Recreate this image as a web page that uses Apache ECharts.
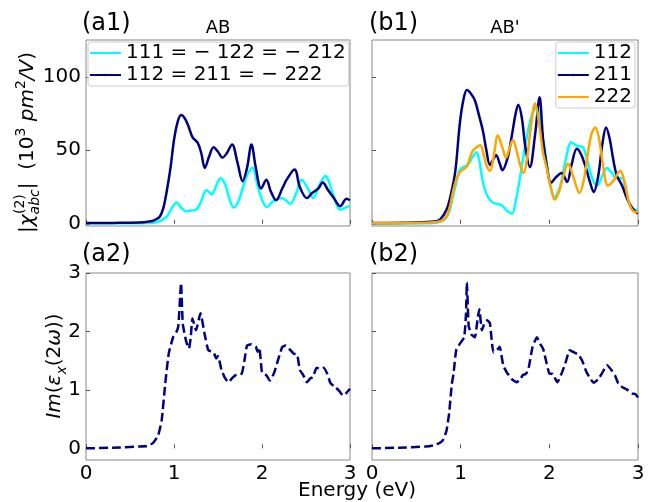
<!DOCTYPE html>
<html>
<head>
<meta charset="utf-8">
<script src="https://cdn.jsdelivr.net/npm/echarts@6/dist/echarts.min.js"></script>
<style>
  html, body { margin: 0; padding: 0; background: #fff; }
  #chart { width: 657px; height: 502px; }
</style>
</head>
<body>
<div id="chart"></div>
<script>
// ---- (a1) AB stacking: |chi^(2)_abc| in 10^3 pm^2/V ----
const abE111 = [0, 0.5, 0.7, 0.8, 0.86, 0.92, 0.97, 1.03, 1.08, 1.14, 1.2, 1.25, 1.3, 1.37, 1.43, 1.48, 1.53, 1.58, 1.63, 1.68, 1.73, 1.78, 1.83, 1.89, 1.95, 2.01, 2.06, 2.12, 2.22, 2.27, 2.32, 2.39, 2.45, 2.53, 2.58, 2.65, 2.72, 2.81, 2.89, 2.95, 3.0];
const abV111 = [0.3, 0.3, 0.5, 1, 2.5, 5, 10, 14.5, 11, 8.5, 9, 9.5, 14, 23, 20, 26, 31, 27, 17, 11, 15, 24, 33, 38, 26, 15, 11.5, 15, 17.5, 16, 13.5, 21, 30, 23, 17.5, 26, 32.5, 19.6, 9.5, 11, 12];
const abE112 = [0, 0.3, 0.6, 0.72, 0.78, 0.84, 0.88, 0.92, 0.96, 1.0, 1.04, 1.08, 1.12, 1.16, 1.21, 1.27, 1.31, 1.35, 1.40, 1.45, 1.50, 1.55, 1.60, 1.66, 1.72, 1.78, 1.83, 1.88, 1.93, 1.99, 2.05, 2.10, 2.16, 2.23, 2.28, 2.37, 2.43, 2.51, 2.57, 2.64, 2.69, 2.75, 2.81, 2.89, 2.96, 3.0];
const abV112 = [0.5, 0.6, 0.8, 1.5, 2.5, 5, 11, 23, 38, 57, 69, 74, 72, 67, 59, 55, 48, 38, 46, 52, 49, 45, 48, 54, 42, 29, 38, 54, 38, 24, 30, 22, 16, 24, 30, 37, 25, 17.5, 21, 24, 28, 23, 18, 12, 17, 16];

// ---- (b1) AB' stacking ----
const abpE112 = [0, 0.6, 0.75, 0.82, 0.87, 0.91, 0.95, 0.99, 1.04, 1.08, 1.13, 1.18, 1.21, 1.24, 1.27, 1.31, 1.36, 1.41, 1.45, 1.49, 1.54, 1.58, 1.62, 1.66, 1.70, 1.76, 1.81, 1.86, 1.9, 1.95, 2.0, 2.06, 2.12, 2.18, 2.25, 2.31, 2.38, 2.44, 2.49, 2.54, 2.6, 2.65, 2.7, 2.76, 2.82, 2.87, 2.92, 2.96, 3.0];
const abpV112 = [0.2, 0.3, 1, 3, 8, 18, 28, 36.5, 39, 40, 45, 48.6, 43, 32, 24, 18, 14.5, 13.5, 13, 11, 8, 7, 15, 28, 43, 63.5, 75, 80, 68, 50, 30, 18, 25, 42, 55.5, 53, 52, 40, 30, 26, 33, 38, 35, 31, 31, 20, 11.5, 9.5, 9];
const abpE211 = [0, 0.5, 0.7, 0.77, 0.84, 0.89, 0.94, 0.99, 1.03, 1.07, 1.11, 1.16, 1.21, 1.25, 1.29, 1.33, 1.36, 1.40, 1.44, 1.47, 1.53, 1.58, 1.62, 1.65, 1.69, 1.73, 1.78, 1.84, 1.89, 1.93, 1.97, 2.02, 2.08, 2.14, 2.2, 2.25, 2.31, 2.36, 2.42, 2.46, 2.50, 2.55, 2.6, 2.64, 2.68, 2.72, 2.76, 2.82, 2.87, 2.91, 2.96, 3.0];
const abpV211 = [0.5, 0.8, 1.5, 3, 9.5, 20, 36, 68, 84, 91, 89, 84, 73, 63.5, 50, 40, 43, 46.6, 41, 36.5, 45, 61, 75, 81, 72, 52, 38.5, 61, 86, 57, 40, 28, 32, 34.5, 28.5, 40, 51, 47, 36.5, 28, 21.6, 32, 55, 65.5, 58, 44, 33, 26, 18, 13, 9, 7];
const abpE222 = [0, 0.5, 0.7, 0.78, 0.84, 0.88, 0.91, 0.95, 0.99, 1.03, 1.07, 1.13, 1.18, 1.22, 1.26, 1.29, 1.33, 1.37, 1.42, 1.47, 1.51, 1.55, 1.59, 1.63, 1.67, 1.71, 1.75, 1.79, 1.84, 1.88, 1.93, 1.97, 2.02, 2.06, 2.11, 2.16, 2.21, 2.27, 2.34, 2.39, 2.44, 2.48, 2.52, 2.56, 2.61, 2.66, 2.72, 2.8, 2.85, 2.9, 2.95, 3.0];
const abpV222 = [0.3, 0.5, 1, 2, 5, 12, 21, 30, 35, 37, 39, 49, 52, 53.4, 47, 40, 36, 45, 60, 52, 45, 51, 57, 50, 40, 34.5, 45, 65, 82, 70, 48, 38, 24, 16.5, 22, 33, 41, 32, 21, 30, 50, 62, 65.5, 58, 38, 26, 29, 36, 28, 14, 8.5, 8];

// ---- (a2)/(b2) Im(eps_x(2w)) ----
const epsAE = [0, 0.3, 0.6, 0.69, 0.76, 0.82, 0.86, 0.9, 0.94, 0.99, 1.03, 1.05, 1.07, 1.08, 1.1, 1.14, 1.17, 1.19, 1.21, 1.25, 1.3, 1.35, 1.39, 1.45, 1.48, 1.5, 1.54, 1.58, 1.62, 1.66, 1.71, 1.77, 1.8, 1.83, 1.88, 1.93, 1.95, 1.97, 2.0, 2.05, 2.09, 2.14, 2.19, 2.23, 2.27, 2.31, 2.36, 2.4, 2.43, 2.47, 2.51, 2.55, 2.58, 2.62, 2.66, 2.7, 2.74, 2.78, 2.83, 2.88, 2.92, 2.96, 3.0];
const epsAV = [0, 0.01, 0.03, 0.04, 0.09, 0.22, 0.48, 1.1, 1.62, 1.9, 2.0, 2.1, 2.6, 2.83, 2.13, 1.82, 1.71, 1.9, 2.22, 2.02, 2.31, 1.94, 1.68, 1.64, 1.54, 1.58, 1.34, 1.2, 1.13, 1.2, 1.26, 1.28, 1.5, 1.76, 1.78, 1.74, 1.65, 1.72, 1.3, 1.25, 1.16, 1.3, 1.55, 1.73, 1.76, 1.7, 1.62, 1.6, 1.34, 1.25, 1.13, 1.2, 1.22, 1.38, 1.36, 1.38, 1.28, 1.11, 1.05, 0.98, 0.9, 0.95, 1.02];
const epsBE = [0, 0.3, 0.6, 0.69, 0.76, 0.8, 0.84, 0.87, 0.9, 0.92, 0.95, 1.0, 1.04, 1.06, 1.07, 1.09, 1.12, 1.16, 1.19, 1.21, 1.24, 1.27, 1.3, 1.33, 1.37, 1.42, 1.44, 1.48, 1.52, 1.58, 1.63, 1.67, 1.7, 1.74, 1.77, 1.81, 1.86, 1.9, 1.93, 1.97, 2.0, 2.04, 2.09, 2.13, 2.18, 2.23, 2.28, 2.33, 2.37, 2.42, 2.46, 2.5, 2.55, 2.6, 2.65, 2.7, 2.74, 2.78, 2.83, 2.88, 2.93, 2.97, 3.0];
const epsBV = [0, 0.01, 0.03, 0.05, 0.09, 0.14, 0.3, 0.6, 1.1, 1.28, 1.68, 1.81, 1.9, 2.3, 2.84, 2.1, 1.95, 1.9, 2.2, 2.38, 2.02, 2.15, 2.19, 2.14, 1.64, 1.7, 1.74, 1.42, 1.3, 1.18, 1.13, 1.18, 1.25, 1.28, 1.4, 1.73, 1.9, 1.78, 1.7, 1.45, 1.28, 1.27, 1.13, 1.25, 1.45, 1.68, 1.64, 1.6, 1.5, 1.3, 1.2, 1.12, 1.18, 1.3, 1.42, 1.34, 1.25, 1.1, 1.04, 1.0, 0.94, 0.93, 0.87];

// axis ticks
const energyTicks = [0, 1, 2, 3];
const chiTicks = [0, 50, 100];
const epsTicks = [0, 1, 2, 3];

const NAVY = '#000080', CYAN = '#00ffff', ORANGE = '#ffa500';
const FONT = 'DejaVu Sans';
const FRAME = '#888888';

const zip = (xs, ys) => xs.map((x, i) => [x, ys[i]]);

const chart = echarts.init(document.getElementById('chart'), null, { renderer: 'canvas' });

const grids = [
  { left: 86, top: 40, width: 264, height: 186 },
  { left: 372, top: 40, width: 266, height: 186 },
  { left: 86, top: 273, width: 264, height: 187 },
  { left: 372, top: 273, width: 266, height: 187 }
].map(g => Object.assign({ show: true, borderColor: FRAME, borderWidth: 1, backgroundColor: 'transparent', containLabel: false }, g));

const xAxes = grids.map((g, i) => ({
  type: 'value', gridIndex: i, min: 0, max: 3, interval: 1,
  axisLine: { show: false },
  axisTick: { show: true, inside: true, length: 4, lineStyle: { color: '#555' } },
  axisLabel: { show: i >= 2, fontFamily: FONT, fontSize: 20, color: '#000', margin: 4 },
  splitLine: { show: false }
}));

const yAxes = grids.map((g, i) => {
  const top = i < 2;
  const ticks = top ? chiTicks : epsTicks;
  return {
    type: 'value', gridIndex: i,
    min: top ? -1.5 : -0.2, max: top ? 125 : 3,
    axisLine: { show: false },
    axisTick: { show: true, inside: true, length: 4, customValues: ticks, lineStyle: { color: '#555' } },
    axisLabel: { show: i % 2 === 0, customValues: ticks, fontFamily: FONT, fontSize: 20, color: '#000', margin: 5 },
    splitLine: { show: false }
  };
});

const solid = (name, E, V, color, gi) => ({
  name, type: 'line', xAxisIndex: gi, yAxisIndex: gi,
  data: zip(E, V), smooth: 0.35, symbol: 'none', showSymbol: false,
  lineStyle: { color, width: 2.5 }, itemStyle: { color }, z: 3
});
const dashed = (name, E, V, gi) => ({
  name, type: 'line', xAxisIndex: gi, yAxisIndex: gi,
  data: zip(E, V), smooth: 0.15, symbol: 'none', showSymbol: false,
  lineStyle: { color: NAVY, width: 2.5, type: [9, 4] }, itemStyle: { color: NAVY }, z: 3
});

const nameA1 = '111 = − 122 = − 212';
const nameA2 = '112 = 211 = − 222';

const legendBase = {
  orient: 'vertical', itemWidth: 31, itemHeight: 3, itemGap: 2,
  padding: [1, 3, 1, 1], backgroundColor: 'rgba(255,255,255,0.85)',
  borderColor: '#cccccc', borderWidth: 1, borderRadius: 3,
  selectedMode: false,
  textStyle: { fontFamily: FONT, fontSize: 20, color: '#000', lineHeight: 20 }
};

const txt = (text, x, y, size, align, extra) => ({
  type: 'text', x, y, silent: true,
  style: Object.assign({ text, fontFamily: FONT, fontSize: size, fill: '#000', align: align || 'left', verticalAlign: 'middle' }, extra || {})
});

const richBase = {
  n: { fontFamily: FONT, fontSize: 20, lineHeight: 28, verticalAlign: 'middle' },
  i: { fontFamily: FONT, fontStyle: 'italic', fontSize: 20, lineHeight: 28, verticalAlign: 'middle' },
  sup: { fontFamily: FONT, fontSize: 14, lineHeight: 28, verticalAlign: 'top' },
  sub: { fontFamily: FONT, fontStyle: 'italic', fontSize: 14, lineHeight: 28, verticalAlign: 'bottom' }
};

chart.setOption({
  animation: false,
  backgroundColor: '#fff',
  grid: grids,
  xAxis: xAxes,
  yAxis: yAxes,
  legend: [
    Object.assign({ data: [nameA1, nameA2], left: 88, top: 42 }, legendBase),
    Object.assign({ data: ['112', '211', '222'], right: 22, top: 42 }, legendBase)
  ],
  series: [
    solid(nameA1, abE111, abV111, CYAN, 0),
    solid(nameA2, abE112, abV112, NAVY, 0),
    solid('112', abpE112, abpV112, CYAN, 1),
    solid('211', abpE211, abpV211, NAVY, 1),
    solid('222', abpE222, abpV222, ORANGE, 1),
    dashed('a2', epsAE, epsAV, 2),
    dashed('b2', epsBE, epsBV, 3)
  ],
  graphic: [
    txt('(a1)', 82, 24, 24),
    txt('AB', 218, 28, 18, 'center'),
    txt('(b1)', 369, 24, 24),
    txt("AB'", 505, 28, 18, 'center'),
    txt('(a2)', 82, 255, 24),
    txt('(b2)', 369, 255, 24),
    txt('Energy (eV)', 357, 491, 20, 'center'),
    {
      type: 'group', x: 28, y: 233, rotation: Math.PI / 2, silent: true,
      children: [
        {
          type: 'text', x: 0, y: 0,
          style: {
            text: '{n||}{i|χ}{sub|abc}{n||}{n|  (10}{sup|3}{n| }{i|pm}{sup|2}{i|/V}{n|)}',
            rich: richBase, align: 'left', verticalAlign: 'middle', fill: '#000'
          }
        },
        txt('(2)', 19, -8, 14)
      ]
    },
    {
      type: 'text', x: 55, y: 366, rotation: Math.PI / 2, silent: true,
      style: {
        text: '{i|Im}{n|(}{i|ε}{sub|x}{n|(2}{i|ω}{n|))}',
        rich: richBase, align: 'center', verticalAlign: 'middle', fill: '#000'
      }
    }
  ]
});
</script>
</body>
</html>
